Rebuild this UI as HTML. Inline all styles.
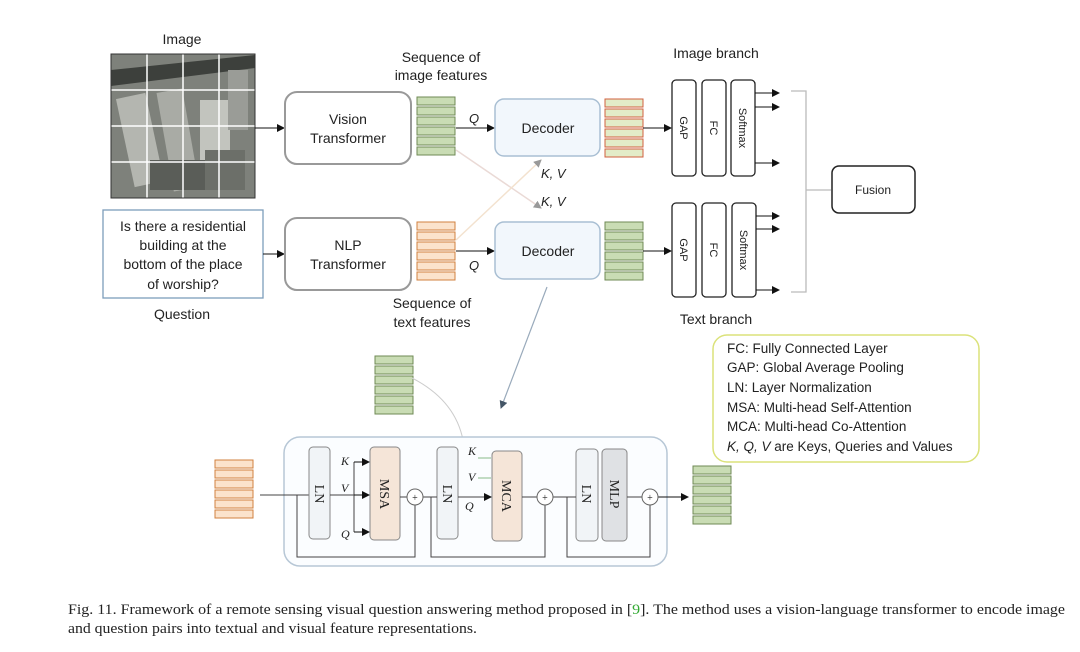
<!DOCTYPE html>
<html><head><meta charset="utf-8"><style>
html,body{margin:0;padding:0;background:#fff}
svg{display:block}
.s{font-family:"Liberation Sans",sans-serif;fill:#222}
.r{font-family:"Liberation Serif",serif;fill:#222}
</style></head><body>
<svg width="1080" height="652" viewBox="0 0 1080 652" xmlns="http://www.w3.org/2000/svg">
<defs>
<marker id="a" markerWidth="8" markerHeight="8" refX="7" refY="4" orient="auto" markerUnits="userSpaceOnUse"><path d="M0,0 L8,4 L0,8z" fill="#111"/></marker>
<marker id="ab" markerWidth="8" markerHeight="8" refX="7" refY="4" orient="auto" markerUnits="userSpaceOnUse"><path d="M0,0 L8,4 L0,8z" fill="#456"/></marker>
<marker id="ag" markerWidth="8" markerHeight="8" refX="7" refY="4" orient="auto" markerUnits="userSpaceOnUse"><path d="M0,0 L8,4 L0,8z" fill="#999"/></marker>
<g id="gs"><rect x="0" y="0" width="38" height="8" fill="#c9dcb4" stroke="#6f8a55"/><rect x="0" y="10" width="38" height="8" fill="#c9dcb4" stroke="#6f8a55"/><rect x="0" y="20" width="38" height="8" fill="#c9dcb4" stroke="#6f8a55"/><rect x="0" y="30" width="38" height="8" fill="#c9dcb4" stroke="#6f8a55"/><rect x="0" y="40" width="38" height="8" fill="#c9dcb4" stroke="#6f8a55"/><rect x="0" y="50" width="38" height="8" fill="#c9dcb4" stroke="#6f8a55"/></g>
<g id="os"><rect x="0" y="0" width="38" height="8" fill="#fbe3cc" stroke="#d0803f"/><rect x="0" y="10" width="38" height="8" fill="#fbe3cc" stroke="#d0803f"/><rect x="0" y="20" width="38" height="8" fill="#fbe3cc" stroke="#d0803f"/><rect x="0" y="30" width="38" height="8" fill="#fbe3cc" stroke="#d0803f"/><rect x="0" y="40" width="38" height="8" fill="#fbe3cc" stroke="#d0803f"/><rect x="0" y="50" width="38" height="8" fill="#fbe3cc" stroke="#d0803f"/></g>
<g id="ms"><rect x="0" y="0" width="38" height="8" fill="#e3ecc8" stroke="#d0603f"/><rect x="0" y="10" width="38" height="8" fill="#e3ecc8" stroke="#d0603f"/><rect x="0" y="20" width="38" height="8" fill="#e3ecc8" stroke="#d0603f"/><rect x="0" y="30" width="38" height="8" fill="#e3ecc8" stroke="#d0603f"/><rect x="0" y="40" width="38" height="8" fill="#e3ecc8" stroke="#d0603f"/><rect x="0" y="50" width="38" height="8" fill="#e3ecc8" stroke="#d0603f"/></g>
</defs>
<text class="s" x="182" y="44" font-size="14" text-anchor="middle">Image</text>
<rect x="111" y="54" width="144" height="144" fill="#7e817b"/>
<path d="M111,70 L255,55 L255,68 L111,86z" fill="#3d403c"/>
<rect x="125" y="95" width="30" height="90" fill="#b4b6b0" transform="rotate(-12 140 140)"/>
<rect x="165" y="90" width="26" height="100" fill="#a9aba5" transform="rotate(-10 178 140)"/>
<rect x="200" y="100" width="30" height="60" fill="#c2c4be"/>
<rect x="228" y="70" width="20" height="60" fill="#9a9c97"/>
<rect x="150" y="160" width="60" height="30" fill="#5a5d58"/>
<rect x="205" y="150" width="40" height="40" fill="#6c6f69"/>
<g stroke="#fff" stroke-width="1.5"><line x1="147" y1="54" x2="147" y2="198"/><line x1="183" y1="54" x2="183" y2="198"/><line x1="219" y1="54" x2="219" y2="198"/><line x1="111" y1="90" x2="255" y2="90"/><line x1="111" y1="126" x2="255" y2="126"/><line x1="111" y1="162" x2="255" y2="162"/></g>
<rect x="111" y="54" width="144" height="144" fill="none" stroke="#333"/>
<rect x="103" y="210" width="160" height="88" fill="#fff" stroke="#7d9dbb" stroke-width="1.3"/>
<g class="s" font-size="14" text-anchor="middle"><text x="183" y="231">Is there a residential</text><text x="183" y="250">building at the</text><text x="183" y="269">bottom of the place</text><text x="183" y="289">of worship?</text></g>
<text class="s" x="182" y="319" font-size="14" text-anchor="middle" fill="#334">Question</text>
<line x1="255" y1="128" x2="284" y2="128" stroke="#111" marker-end="url(#a)"/>
<line x1="263" y1="254" x2="284" y2="254" stroke="#111" marker-end="url(#a)"/>
<rect x="285" y="92" width="126" height="72" rx="12" fill="#fff" stroke="#999" stroke-width="2"/>
<rect x="285" y="218" width="126" height="72" rx="12" fill="#fff" stroke="#999" stroke-width="2"/>
<g class="s" font-size="14" text-anchor="middle"><text x="348" y="124">Vision</text><text x="348" y="143">Transformer</text><text x="348" y="250">NLP</text><text x="348" y="269">Transformer</text></g>
<g class="s" font-size="14" text-anchor="middle"><text x="441" y="62">Sequence of</text><text x="441" y="80">image features</text><text x="432" y="308">Sequence of</text><text x="432" y="327">text features</text></g>
<use href="#gs" x="417" y="97"/>
<use href="#os" x="417" y="222"/>
<line x1="456" y1="150" x2="541" y2="208" stroke="#eadad6" stroke-width="1.5" marker-end="url(#ag)"/>
<line x1="456" y1="240" x2="541" y2="160" stroke="#f3e2cf" stroke-width="1.5" marker-end="url(#ag)"/>
<line x1="456" y1="128" x2="494" y2="128" stroke="#111" marker-end="url(#a)"/>
<line x1="456" y1="251" x2="494" y2="251" stroke="#111" marker-end="url(#a)"/>
<g class="s" font-size="13" font-style="italic"><text x="469" y="123">Q</text><text x="469" y="270">Q</text><text x="541" y="178">K, V</text><text x="541" y="206">K, V</text></g>
<rect x="495" y="99" width="105" height="57" rx="9" fill="#f2f7fc" stroke="#a9bfd3" stroke-width="1.5"/>
<rect x="495" y="222" width="105" height="57" rx="9" fill="#f2f7fc" stroke="#a9bfd3" stroke-width="1.5"/>
<g class="s" font-size="14" text-anchor="middle"><text x="548" y="133">Decoder</text><text x="548" y="256">Decoder</text></g>
<use href="#ms" x="605" y="99"/>
<use href="#gs" x="605" y="222"/>
<line x1="643" y1="128" x2="671" y2="128" stroke="#111" marker-end="url(#a)"/>
<line x1="643" y1="251" x2="671" y2="251" stroke="#111" marker-end="url(#a)"/>
<text class="s" x="716" y="58" font-size="14" text-anchor="middle">Image branch</text>
<text class="s" x="716" y="324" font-size="14" text-anchor="middle">Text branch</text>
<g fill="#fff" stroke="#222" stroke-width="1.3">
<rect x="672" y="80" width="24" height="96" rx="4"/><rect x="702" y="80" width="24" height="96" rx="4"/><rect x="731" y="80" width="24" height="96" rx="4"/>
<rect x="672" y="203" width="24" height="94" rx="4"/><rect x="702" y="203" width="24" height="94" rx="4"/><rect x="732" y="203" width="24" height="94" rx="4"/>
</g>
<g class="s" font-size="11" text-anchor="middle">
<text transform="translate(680,128) rotate(90)">GAP</text>
<text transform="translate(710,128) rotate(90)">FC</text>
<text transform="translate(739,128) rotate(90)">Softmax</text>
<text transform="translate(680,250) rotate(90)">GAP</text>
<text transform="translate(710,250) rotate(90)">FC</text>
<text transform="translate(740,250) rotate(90)">Softmax</text>
</g>
<g stroke="#111" marker-end="url(#a)">
<line x1="755" y1="93" x2="779" y2="93"/><line x1="755" y1="107" x2="779" y2="107"/><line x1="755" y1="163" x2="779" y2="163"/>
<line x1="756" y1="216" x2="779" y2="216"/><line x1="756" y1="229" x2="779" y2="229"/><line x1="756" y1="290" x2="779" y2="290"/>
</g>
<path d="M791,91 H806 V292 H791 M806,190 H831" fill="none" stroke="#bbb" stroke-width="1.3"/>
<rect x="832" y="166" width="83" height="47" rx="7" fill="#fff" stroke="#222" stroke-width="1.5"/>
<text class="s" x="873" y="194" font-size="12" text-anchor="middle">Fusion</text>
<rect x="713" y="335" width="266" height="127" rx="14" fill="#fff" stroke="#dbe27a" stroke-width="1.5"/>
<g class="s" font-size="13.5"><text x="727" y="353">FC: Fully Connected Layer</text><text x="727" y="372">GAP: Global Average Pooling</text><text x="727" y="392">LN: Layer Normalization</text><text x="727" y="412">MSA: Multi-head Self-Attention</text><text x="727" y="431">MCA: Multi-head Co-Attention</text><text x="727" y="451"><tspan font-style="italic">K, Q, V</tspan> are Keys, Queries and Values</text></g>
<line x1="547" y1="287" x2="501" y2="408" stroke="#9ab" stroke-width="1.2" marker-end="url(#ab)"/>
<use href="#gs" x="375" y="356"/>
<path d="M412,378 Q455,400 463,440" fill="none" stroke="#ccc"/>
<rect x="284" y="437" width="383" height="129" rx="16" fill="#fbfdff" stroke="#b7c7d6" stroke-width="1.5"/>
<use href="#os" x="215" y="460"/>
<line x1="260" y1="495" x2="309" y2="495" stroke="#444"/>
<rect x="309" y="447" width="21" height="92" rx="4" fill="#f1f4f7" stroke="#888"/>
<rect x="370" y="447" width="30" height="93" rx="4" fill="#f5e5d8" stroke="#888"/>
<rect x="437" y="447" width="21" height="92" rx="4" fill="#f1f4f7" stroke="#888"/>
<rect x="492" y="451" width="30" height="90" rx="4" fill="#f5e5d8" stroke="#888"/>
<rect x="576" y="449" width="22" height="92" rx="4" fill="#f1f4f7" stroke="#888"/>
<rect x="602" y="449" width="25" height="92" rx="4" fill="#dfe1e4" stroke="#888"/>
<g class="r" font-size="14" text-anchor="middle">
<text transform="translate(315,494) rotate(90)">LN</text>
<text transform="translate(380,494) rotate(90)">MSA</text>
<text transform="translate(443,494) rotate(90)">LN</text>
<text transform="translate(502,496) rotate(90)">MCA</text>
<text transform="translate(582,494) rotate(90)">LN</text>
<text transform="translate(610,494) rotate(90)">MLP</text>
</g>
<g stroke="#444" fill="none">
<line x1="330" y1="495" x2="354" y2="495"/><path d="M354,462 V532"/>
<line x1="400" y1="497" x2="407" y2="497"/><line x1="423" y1="497" x2="437" y2="497"/>
<line x1="458" y1="497" x2="491" y2="497" marker-end="url(#a)"/>
<line x1="522" y1="497" x2="537" y2="497"/><line x1="553" y1="497" x2="576" y2="497"/>
<line x1="627" y1="497" x2="642" y2="497"/>
<path d="M297,495 V557 H415 V505"/><path d="M431,497 V557 H545 V505"/><path d="M567,497 V557 H650 V505"/>
</g>
<g stroke="#111" marker-end="url(#a)"><line x1="354" y1="462" x2="369" y2="462"/><line x1="354" y1="495" x2="369" y2="495"/><line x1="354" y1="532" x2="369" y2="532"/><line x1="658" y1="497" x2="688" y2="497"/></g>
<g stroke="#8b8" fill="#8b8"><line x1="478" y1="458" x2="491" y2="458"/><line x1="478" y1="478" x2="491" y2="478"/></g>
<g fill="#fff" stroke="#666"><circle cx="415" cy="497" r="8"/><circle cx="545" cy="497" r="8"/><circle cx="650" cy="497" r="8"/></g>
<g class="r" font-size="10" text-anchor="middle"><text x="415" y="501">+</text><text x="545" y="501">+</text><text x="650" y="501">+</text></g>
<g class="r" font-size="12" font-style="italic"><text x="341" y="465">K</text><text x="341" y="492">V</text><text x="341" y="538">Q</text><text x="468" y="455">K</text><text x="468" y="481">V</text><text x="465" y="510">Q</text></g>
<use href="#gs" x="693" y="466"/>
<g class="r" font-size="15"><text x="68" y="614" textLength="997" lengthAdjust="spacingAndGlyphs">Fig. 11.  Framework of a remote sensing visual question answering method proposed in [<tspan fill="#3a3">9</tspan>]. The method uses a vision-language transformer to encode image</text><text x="68" y="633" textLength="409" lengthAdjust="spacingAndGlyphs">and question pairs into textual and visual feature representations.</text></g>
</svg>
</body></html>
